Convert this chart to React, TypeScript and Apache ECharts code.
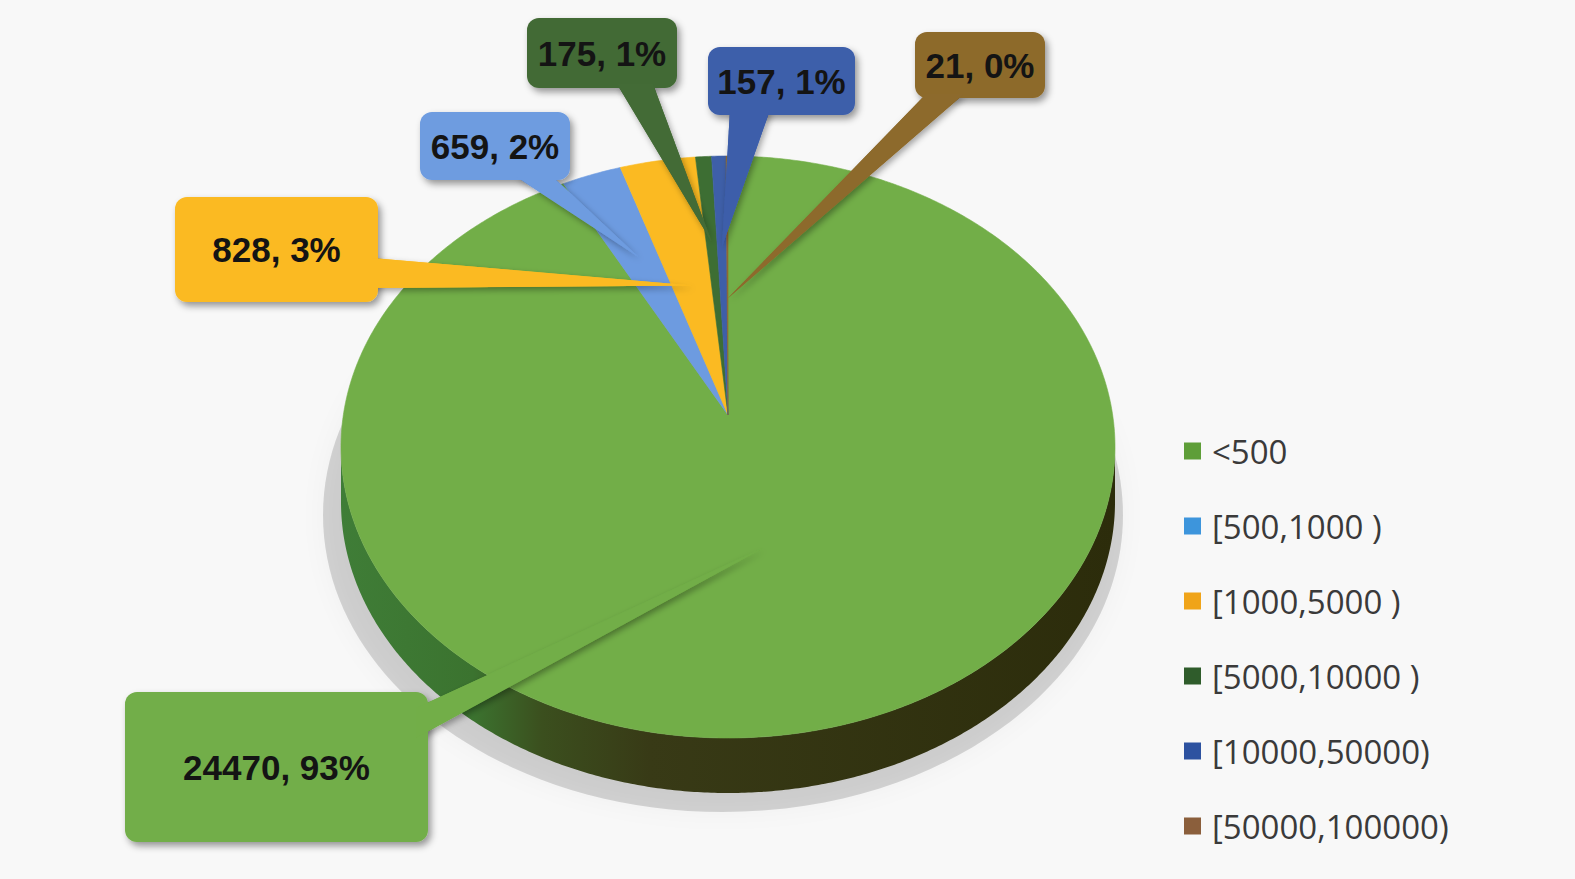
import React, { useEffect, useRef } from "react";
import * as echarts from "echarts";

// ---- data ----
const categories = ["<500", "[500,1000 )", "[1000,5000 )", "[5000,10000 )", "[10000,50000)", "[50000,100000)"];
const values = [24470, 659, 828, 175, 157, 21];
const percentLabels = [93, 2, 3, 1, 1, 0];

// ---- styles ----
const sliceColors = ["#72AE48", "#6D9BE0", "#FBBA22", "#3D6E33", "#3E5FA8", "#8E6A33"];
const labelBoxColors = ["#72AE48", "#6E9CE0", "#FBBA22", "#436B36", "#3D5EAA", "#8D6A2C"];
const legendColors = ["#5E9E38", "#3D95DC", "#F0A419", "#2F5C2B", "#2D52A0", "#8B5F3C"];

// ---- layout ----
const GEO = { cx: 728, cy: 447, rx: 387, ry: 291, depth: 55, apexX: 728, apexY: 415 };
// label boxes [x, y, w, h]
const labelBoxes = [
  [125, 692, 303, 150],
  [420, 112, 150, 68],
  [175, 197, 203, 105],
  [527, 18, 150, 70],
  [708, 47, 147, 68],
  [915, 32, 130, 66],
];
// pointer bases on each box
const pointerBases = [
  [[416, 708], [416, 738]],
  [[515, 176], [552, 176]],
  [[372, 258], [372, 288]],
  [[617, 84], [653, 84]],
  [[730, 110], [770, 110]],
  [[926, 94], [964, 94]],
];
// how far along the slice's middle ray the pointer tip lies
const tipFractions = [0.42, 0.66, 0.51, 0.67, 0.65, 0.45];

const total = values.reduce((s, v) => s + v, 0);
const starts: number[] = [];
{
  let acc = 0;
  for (const v of values) {
    starts.push(acc);
    acc += (v / total) * Math.PI * 2;
  }
}

function rim(t: number, dy = 0): number[] {
  return [GEO.cx + GEO.rx * Math.sin(t), GEO.cy - GEO.ry * Math.cos(t) + dy];
}
function arcPoints(a: number, b: number, dy: number): number[][] {
  const n = Math.max(1, Math.ceil((b - a) / (Math.PI / 360)));
  const pts: number[][] = [];
  for (let k = 0; k <= n; k++) pts.push(rim(a + ((b - a) * k) / n, dy));
  return pts;
}

const sideGradient = () =>
  new echarts.graphic.LinearGradient(
    GEO.cx - GEO.rx,
    0,
    GEO.cx + GEO.rx,
    0,
    [
      { offset: 0, color: "#3F7D37" },
      { offset: 0.17, color: "#3B732F" },
      { offset: 0.26, color: "#3B4F1E" },
      { offset: 0.4, color: "#383A16" },
      { offset: 1, color: "#2C2C0B" },
    ],
    true
  );

function renderSide(params: any, api: any) {
  const i = params.dataIndex;
  const v = api.value(0);
  const a0 = starts[i];
  const b0 = a0 + (v / total) * Math.PI * 2;
  const a = Math.max(a0, Math.PI / 2);
  const b = Math.min(b0, (Math.PI * 3) / 2);
  const children: any[] = [];
  if (i === 0) {
    children.push({
      type: "ellipse",
      shape: { cx: GEO.cx - 5, cy: GEO.cy + GEO.depth + 13, rx: GEO.rx + 13, ry: GEO.ry + 6 },
      style: {
        fill: "rgba(0,0,0,0.15)",
        shadowBlur: 24,
        shadowColor: "rgba(0,0,0,0.22)",
      },
    });
  }
  if (a < b) {
    const top = arcPoints(a, b, 0);
    const bottom = arcPoints(a, b, GEO.depth).reverse();
    children.push({
      type: "polygon",
      shape: { points: top.concat(bottom) },
      style: { fill: sideGradient() },
    });
  }
  return { type: "group", children };
}

function renderTop(params: any, api: any) {
  const i = params.dataIndex;
  const v = api.value(0);
  const a = starts[i];
  const b = a + (v / total) * Math.PI * 2;
  const pts = [[GEO.apexX, GEO.apexY]].concat(arcPoints(a, b, 0));
  return {
    type: "polygon",
    shape: { points: pts },
    style: { fill: sliceColors[i], stroke: sliceColors[i], lineWidth: 0.6 },
  };
}

function renderLabel(params: any, api: any) {
  const i = params.dataIndex;
  const v = api.value(0);
  const a = starts[i];
  const b = a + (v / total) * Math.PI * 2;
  const mid = (a + b) / 2;
  const r = rim(mid);
  const f = tipFractions[i];
  const tip = [GEO.apexX + f * (r[0] - GEO.apexX), GEO.apexY + f * (r[1] - GEO.apexY)];
  const [bx, by, bw, bh] = labelBoxes[i];
  const base = pointerBases[i];
  const color = labelBoxColors[i];
  return {
    type: "group",
    children: [
      {
        type: "polygon",
        shape: { points: [base[0], base[1], tip] },
        style: {
          fill: color,
          shadowBlur: 6,
          shadowColor: "rgba(0,0,0,0.35)",
          shadowOffsetX: 2,
          shadowOffsetY: 3,
        },
      },
      {
        type: "rect",
        shape: { x: bx, y: by, width: bw, height: bh, r: 12 },
        style: {
          fill: color,
          shadowBlur: 7,
          shadowColor: "rgba(0,0,0,0.4)",
          shadowOffsetX: 3,
          shadowOffsetY: 4,
        },
      },
      {
        type: "polygon",
        shape: { points: [base[0], base[1], tip] },
        style: { fill: color },
      },
      {
        type: "text",
        x: bx + bw / 2,
        y: by + bh / 2,
        style: {
          text: `${v}, ${percentLabels[i]}%`,
          fill: "#141414",
          font: 'bold 35px "Liberation Sans", Arial, sans-serif',
          align: "center",
          verticalAlign: "middle",
          textAlign: "center",
          textVerticalAlign: "middle",
        },
      },
    ],
  };
}

export default function App() {
  const ref = useRef<HTMLDivElement>(null);
  useEffect(() => {
    document.body.style.margin = "0";
    const chart = echarts.init(ref.current!, null, { renderer: "svg" });
    const seriesData = values.map((v, i) => [v, i]);
    chart.setOption({
      animation: false,
      backgroundColor: "#F8F8F8",
      legend: {
        data: categories,
        orient: "vertical",
        left: 1179,
        top: 429,
        itemWidth: 17,
        itemHeight: 17,
        itemGap: 41,
        icon: "rect",
        selectedMode: false,
        textStyle: {
          fontFamily: '"Open Sans", "Noto Sans", sans-serif',
          fontSize: 33,
          lineHeight: 34,
          color: "#3A3A3A",
          padding: [0, 0, 0, 6],
        },
      },
      series: [
        {
          type: "pie",
          name: "legend",
          radius: [0, 1],
          center: [-50, -50],
          silent: true,
          label: { show: false },
          labelLine: { show: false },
          data: categories.map((n, i) => ({ name: n, value: values[i], itemStyle: { color: legendColors[i] } })),
        },
        { type: "custom", name: "side", coordinateSystem: "none", z: 1, data: seriesData, renderItem: renderSide, silent: true },
        { type: "custom", name: "top", coordinateSystem: "none", z: 2, data: seriesData, renderItem: renderTop, silent: true },
        { type: "custom", name: "labels", coordinateSystem: "none", z: 3, data: seriesData, renderItem: renderLabel, silent: true },
      ],
    });
    return () => chart.dispose();
  }, []);
  return <div ref={ref} style={{ position: "fixed", left: 0, top: 0, width: "1575px", height: "879px" }} />;
}
